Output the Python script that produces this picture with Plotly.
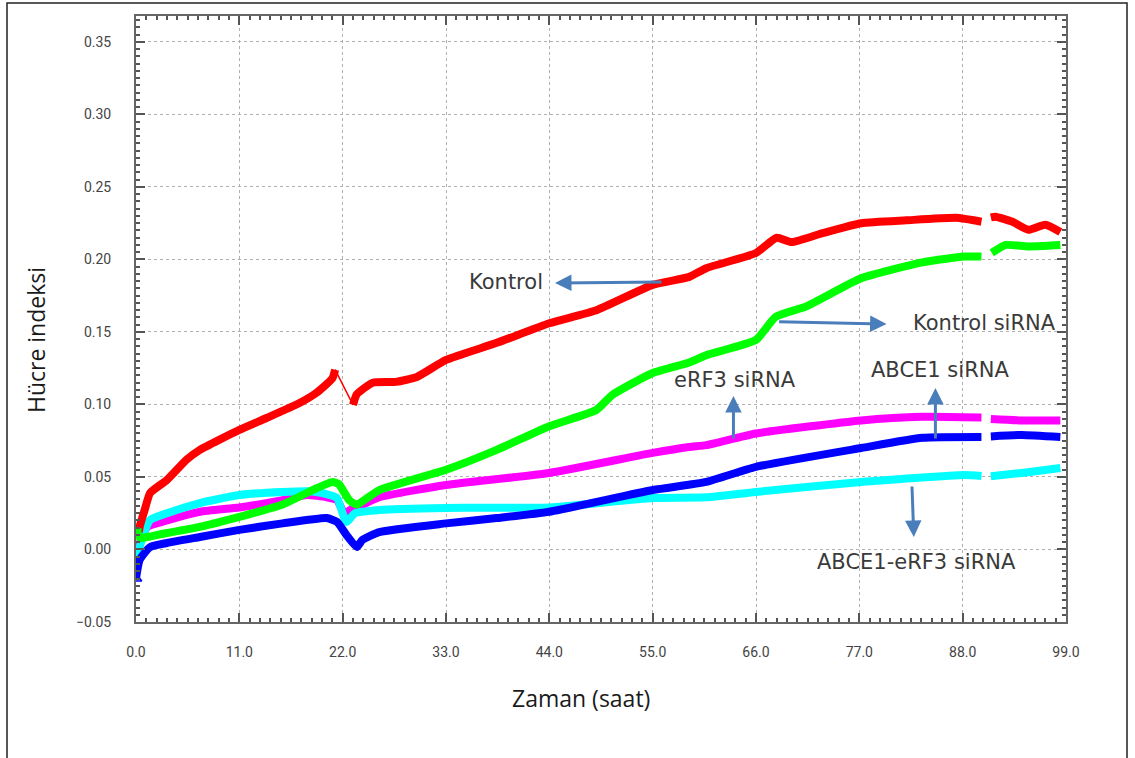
import plotly.graph_objects as go

# ---------------- data ----------------
kontrol_x = [0.3, 0.4, 1.0, 1.5, 3.3, 5.4, 6.8, 11.0, 13.9, 17.4, 19.2, 20.9, 21.2,
             23.1, 23.5, 25.2, 27.7, 29.9, 33.0, 38.4, 44.0, 49.0, 55.0, 58.9, 60.7,
             66.0, 68.2, 69.8, 73.0, 77.2, 82.0, 87.3, 90.0, None, 91.0, 91.5, 93.3,
             95.0, 96.8, 98.4]
kontrol_y = [0.012, 0.016, 0.029, 0.039, 0.048, 0.062, 0.0687, 0.0825, 0.0907, 0.101,
             0.108, 0.118, 0.124,
             0.0997, 0.107, 0.115, 0.1156, 0.119, 0.1307, 0.1425, 0.156, 0.165, 0.1825,
             0.188, 0.194, 0.2045, 0.215, 0.212, 0.218, 0.225, 0.227, 0.2287, 0.226,
             None, 0.229, 0.2295, 0.226, 0.2205, 0.224, 0.219]

ksirna_x = [0.0, 0.5, 1.2, 3.3, 6.8, 11.0, 15.6, 18.8, 20.9, 21.6, 22.7, 23.5, 25.9,
            33.0, 38.4, 44.0, 49.0, 50.7, 55.0, 58.9, 60.7, 66.0, 68.1, 71.3, 77.2,
            83.7, 88.2, 90.0, None, 91.1, 92.6, 95.0, 98.4]
ksirna_y = [0.011, 0.008, 0.0086, 0.0114, 0.0156, 0.0225, 0.031, 0.041, 0.0466, 0.045,
            0.034, 0.031, 0.041, 0.055, 0.0687, 0.085, 0.0962, 0.1066, 0.1217, 0.129,
            0.134, 0.1445, 0.1605, 0.1675, 0.187, 0.198, 0.202, 0.202, None, 0.2045,
            0.210, 0.209, 0.210]

erf3_x = [0.0, 0.5, 1.2, 3.3, 6.8, 11.0, 15.6, 18.2, 20.3, 21.4, 22.2, 23.1, 23.5, 25.9,
          33.0, 44.0, 55.0, 58.9, 60.7, 66.0, 77.2, 83.7, 90.0, None, 91.0, 94.3, 98.4]
erf3_y = [-0.004, 0.006, 0.0155, 0.020, 0.026, 0.029, 0.034, 0.0376, 0.036, 0.034,
          0.025, 0.0286, 0.029, 0.036, 0.0445, 0.0528, 0.0666, 0.0707, 0.072, 0.080,
          0.089, 0.0915, 0.091, None, 0.090, 0.089, 0.089]

abce1_erf3_x = [0.0, 0.4, 1.5, 3.3, 6.8, 11.0, 15.6, 18.8, 20.6, 21.4, 22.4, 23.3, 25.9,
                33.0, 44.0, 55.0, 60.7, 66.0, 77.2, 88.2, 90.0, None, 91.0, 94.3, 98.4]
abce1_erf3_y = [-0.009, 0.002, 0.0203, 0.025, 0.032, 0.0376, 0.0397, 0.040, 0.0376,
                0.0355, 0.019, 0.025, 0.0273, 0.0287, 0.029, 0.0355, 0.036, 0.0397,
                0.0466, 0.0514, 0.0507, None, 0.0505, 0.0528, 0.0562]

abce1_x = [0.0, 0.4, 1.5, 3.3, 6.8, 11.0, 15.6, 20.3, 21.4, 22.4, 23.5, 24.1, 25.9, 33.0,
           38.4, 44.0, 55.0, 60.7, 66.0, 77.2, 83.7, 90.0, None, 91.0, 94.3, 98.4]
abce1_y = [-0.02, -0.007, 0.0017, 0.0045, 0.0086, 0.0135, 0.018, 0.0217, 0.019, 0.010,
           0.0017, 0.0066, 0.012, 0.018, 0.0217, 0.026, 0.041, 0.0466, 0.057, 0.070,
           0.077, 0.0776, None, 0.078, 0.079, 0.0776]

x_ticks = [0, 11, 22, 33, 44, 55, 66, 77, 88, 99]
y_ticks = [-0.05, 0.00, 0.05, 0.10, 0.15, 0.20, 0.25, 0.30, 0.35]

labels = ["Kontrol", "Kontrol siRNA", "eRF3 siRNA", "ABCE1 siRNA", "ABCE1-eRF3 siRNA"]
# label positions (text centre) and arrows (tail -> head) in data units
label_pos = [(39.4, 0.1845), (90.3, 0.156), (63.8, 0.117), (85.6, 0.1238), (83.1, -0.0086)]
arrow_tail = [(56.1, 0.1845), (68.3, 0.157), (63.6, 0.0755), (85.1, 0.0755), (82.6, 0.0445)]
arrow_head = [(44.6, 0.1838), (79.9, 0.1555), (63.6, 0.1059), (85.1, 0.1114), (82.8, 0.0086)]

# ---------------- figure ----------------
fig = go.Figure()
LW = 8


def add_series(xs, ys, color):
    fig.add_trace(go.Scatter(x=xs, y=ys, mode="lines",
                             line=dict(color=color, width=LW, shape="spline", smoothing=0.5),
                             connectgaps=False, showlegend=False, hoverinfo="skip"))


add_series(erf3_x, erf3_y, "#ff00ff")
add_series(abce1_erf3_x, abce1_erf3_y, "#00ffff")
add_series(abce1_x, abce1_y, "#0000ff")
add_series(ksirna_x, ksirna_y, "#00ff00")

# Kontrol: thick parts, with the fast drop after 22 h drawn as a thin line
drop_i = 12
add_series(kontrol_x[:drop_i + 1], kontrol_y[:drop_i + 1], "#ff0000")
add_series(kontrol_x[drop_i + 1:], kontrol_y[drop_i + 1:], "#ff0000")
fig.add_trace(go.Scatter(x=kontrol_x[drop_i:drop_i + 2], y=kontrol_y[drop_i:drop_i + 2],
                         mode="lines", line=dict(color="#ff0000", width=1.5),
                         showlegend=False, hoverinfo="skip"))

# start markers
fig.add_trace(go.Scatter(x=[ksirna_x[0]], y=[ksirna_y[0]], mode="markers",
                         marker=dict(symbol="square", size=11, color="#00ff00"),
                         showlegend=False, hoverinfo="skip"))
fig.add_trace(go.Scatter(x=[abce1_x[0]], y=[abce1_y[0]], mode="markers",
                         marker=dict(symbol="triangle-up-open", size=10, color="#0000ff",
                                     line=dict(width=1.5)),
                         showlegend=False, hoverinfo="skip"))

annotations = []
for lab, (tx, ty) in zip(labels, label_pos):
    annotations.append(dict(x=tx, y=ty, xref="x", yref="y", text=lab, showarrow=False,
                            xanchor="center", yanchor="middle",
                            font=dict(family="DejaVu Sans", size=21, color="#3a3a3a")))
for (ax_, ay_), (hx, hy) in zip(arrow_tail, arrow_head):
    annotations.append(dict(x=hx, y=hy, ax=ax_, ay=ay_, xref="x", yref="y",
                            axref="x", ayref="y", text="", showarrow=True,
                            arrowhead=2, arrowsize=1.1, arrowwidth=3, arrowcolor="#4a7ebb"))

annotations.append(dict(x=-0.1075, y=0.4653, xref="paper", yref="paper",
                        xanchor="center", yanchor="middle",
                        text="Hücre indeksi", textangle=-90, showarrow=False,
                        font=dict(family="Open Sans", size=23, color="#1a1a1a")))
annotations.append(dict(x=0.4785, y=-0.1254, xref="paper", yref="paper",
                        xanchor="center", yanchor="middle",
                        text="Zaman (saat)", showarrow=False,
                        font=dict(family="Open Sans", size=23, color="#1a1a1a")))

tick_font = dict(family="Roboto, sans-serif", size=14, color="#444444")

fig.update_layout(
    width=1135, height=758,
    margin=dict(l=136, r=69, t=16, b=136),
    paper_bgcolor="white", plot_bgcolor="white",
    annotations=annotations,
    shapes=[dict(type="rect", xref="paper", yref="paper", x0=-0.1387, x1=1.0656,
                 y0=-0.26, y1=1.0215, line=dict(color="#222222", width=1.5),
                 layer="below")],
    xaxis=dict(range=[0, 99], tickvals=x_ticks, tickformat=".1f", ticks="inside",
               ticklen=9, tickwidth=1.5, tickcolor="#555555", showline=True,
               linecolor="#666666", linewidth=2, mirror="ticks", showgrid=True,
               gridcolor="#b0b0b0", griddash="dot", gridwidth=1.2, zeroline=False,
               tickfont=tick_font, ticklabelstandoff=16,
               minor=dict(dtick=1.1, tick0=0, ticks="inside", ticklen=4,
                          tickcolor="#555555", showgrid=False)),
    yaxis=dict(range=[-0.05, 0.3679], tickvals=y_ticks, tickformat=".2f", ticks="inside",
               ticklen=9, tickwidth=1.5, tickcolor="#555555", showline=True,
               linecolor="#666666", linewidth=2, mirror="ticks", showgrid=True,
               gridcolor="#b0b0b0", griddash="dot", gridwidth=1.2, zeroline=False,
               tickfont=tick_font, ticklabelstandoff=20,
               minor=dict(dtick=0.005, tick0=0, ticks="inside", ticklen=4,
                          tickcolor="#555555", showgrid=False)),
)

fig.write_html("out.html")
